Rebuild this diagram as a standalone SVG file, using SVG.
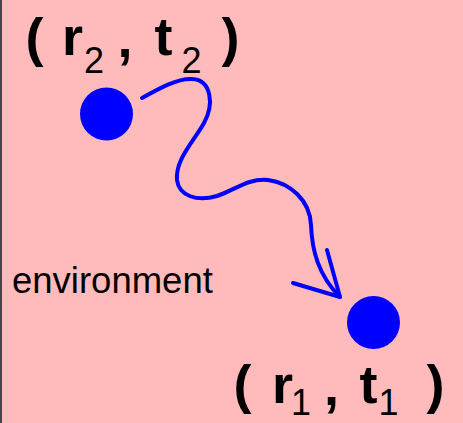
<svg xmlns="http://www.w3.org/2000/svg" width="463" height="423" viewBox="0 0 463 423">
<style>
.lbl{font-family:"Liberation Sans",Arial,sans-serif;fill:#000}
.big{font-size:54px;font-weight:bold;text-anchor:middle}
.sub{font-size:36px;text-anchor:middle}
.env{font-size:36.5px}
.dot{fill:#0000FF}
.wire{fill:none;stroke:#0000FF;stroke-width:4;stroke-linecap:round;stroke-linejoin:round}
</style>
<rect x="0" y="0" width="463" height="423" fill="#FFBBBB"/>
<line x1="1" y1="0" x2="1" y2="423" stroke="#444" stroke-width="2"/>
<g id="node-r2t2">
<circle class="dot" cx="106.5" cy="114" r="26.5"/>
<text class="lbl big" x="34.5" y="56">(</text>
<text class="lbl big" x="72.5" y="55">r</text>
<text class="lbl sub" x="94" y="73">2</text>
<text class="lbl big" x="125" y="57">,</text>
<text class="lbl big" x="163.5" y="55">t</text>
<text class="lbl sub" x="191.5" y="73">2</text>
<text class="lbl big" x="230.5" y="56">)</text>
</g>
<g id="node-r1t1">
<circle class="dot" cx="373.5" cy="322.5" r="26.5"/>
<text class="lbl big" x="242.5" y="403">(</text>
<text class="lbl big" x="282.5" y="403">r</text>
<text class="lbl sub" x="301" y="415">1</text>
<text class="lbl big" x="331.5" y="405">,</text>
<text class="lbl big" x="368.5" y="403">t</text>
<text class="lbl sub" x="388.5" y="415">1</text>
<text class="lbl big" x="435.5" y="403">)</text>
</g>
<g id="label-environment">
<text class="lbl env" x="12" y="293">environment</text>
</g>
<g id="connectors">
<path class="wire" d="M142,98 C160,88 178,78 192,79 C212,80 214,105 204,123 C194,141 175,160 177,180 C179,196 197,202 217,196 C235,190 248,178 268,180 C290,183 310,200 311,225 C312,250 318,275 340,297"/>
<path class="wire" d="M327,250 L340,297 L293,283"/>
</g>
</svg>
